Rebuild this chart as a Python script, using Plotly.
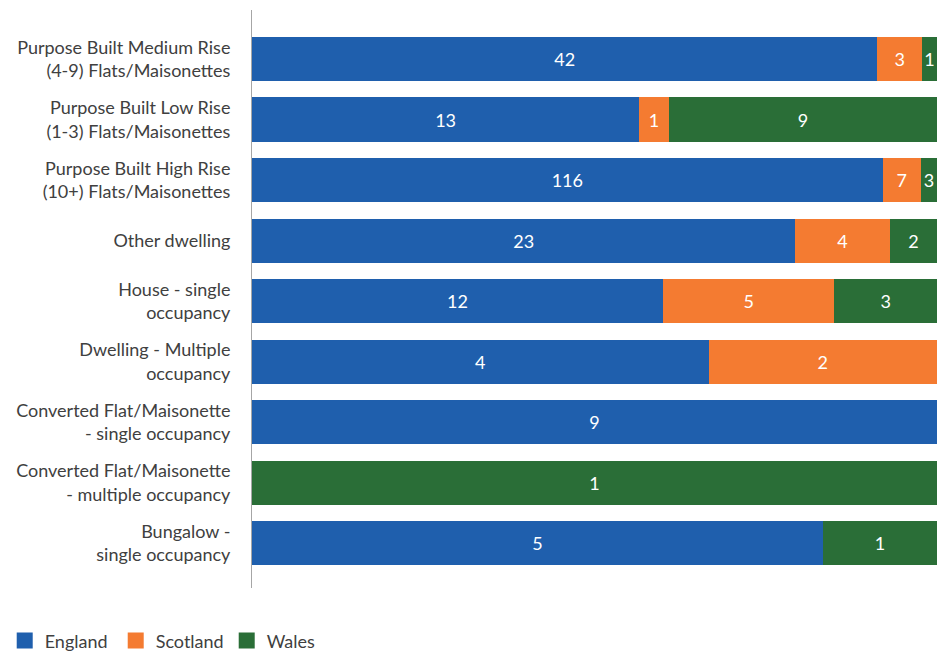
import plotly.graph_objects as go

categories = [
    "Purpose Built Medium Rise<br>(4-9) Flats/Maisonettes",
    "Purpose Built Low Rise<br>(1-3) Flats/Maisonettes",
    "Purpose Built High Rise<br>(10+) Flats/Maisonettes",
    "Other dwelling",
    "House - single<br>occupancy",
    "Dwelling - Multiple<br>occupancy",
    "Converted Flat/Maisonette<br>- single occupancy",
    "Converted Flat/Maisonette<br>- multiple occupancy",
    "Bungalow -<br>single occupancy",
]
england = [42, 13, 116, 23, 12, 4, 9, None, 5]
scotland = [3, 1, 7, 4, 5, 2, None, None, None]
wales = [1, 9, 3, 2, 3, None, None, 1, 1]

series = [
    ("England", england, "#1f5fad"),
    ("Scotland", scotland, "#f47b31"),
    ("Wales", wales, "#2a6e37"),
]

FONT = "Lato, Open Sans, sans-serif"
TEXT = "#404040"

fig = go.Figure()
for name, vals, color in series:
    fig.add_trace(go.Bar(
        y=categories,
        x=vals,
        name=name,
        legendgroup=name,
        showlegend=False,
        orientation="h",
        marker=dict(color=color, line=dict(width=0)),
        text=[("" if v is None else str(v)) for v in vals],
        textposition="inside",
        insidetextanchor="middle",
        textfont=dict(color="white", size=18, family=FONT),
        hoverinfo="skip",
    ))

# legend keys: large square swatches
for name, _, color in series:
    fig.add_trace(go.Scatter(
        x=[None], y=[None],
        mode="markers",
        name=name,
        legendgroup=name,
        marker=dict(symbol="square", size=18, color=color),
        hoverinfo="skip",
    ))

fig.update_layout(
    barmode="stack",
    barnorm="percent",
    bargap=0.27,
    width=943,
    height=652,
    margin=dict(l=252, r=6, t=10, b=64),
    paper_bgcolor="white",
    plot_bgcolor="white",
    font=dict(family=FONT, size=18, color=TEXT),
    uniformtext=dict(minsize=18, mode="show"),
    showlegend=True,
    legend=dict(
        orientation="h",
        xref="container", yref="container",
        x=0.005, y=0.017,
        xanchor="left", yanchor="middle",
        font=dict(size=18, color=TEXT),
        itemwidth=30,
        entrywidth=66,
        entrywidthmode="pixels",
        traceorder="normal",
        itemclick=False,
        itemdoubleclick=False,
    ),
    xaxis=dict(
        range=[0, 100],
        showgrid=False,
        showticklabels=False,
        zeroline=False,
        showline=False,
        fixedrange=True,
    ),
    yaxis=dict(
        categoryorder="array",
        categoryarray=categories,
        autorange=False,
        range=[8.74, -0.81],
        showgrid=False,
        zeroline=False,
        showline=True,
        linecolor="#a6a6a6",
        linewidth=1,
        ticks="",
        ticklabelstandoff=17,
        tickfont=dict(size=18, color=TEXT),
        fixedrange=True,
    ),
)

fig.write_html("out.html")
